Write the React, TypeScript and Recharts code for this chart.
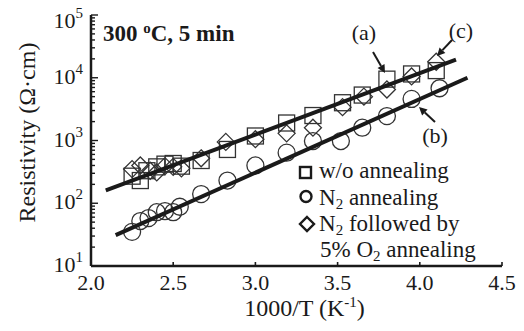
import React from "react";
import { ScatterChart, Scatter, XAxis, YAxis, Label } from "recharts";

const FONT = "Liberation Serif";
const INK = "#1a1a1a";

// 1000/T (K^-1) vs resistivity (ohm cm)
const woAnnealing = [
  { x: 2.25, y: 270 }, { x: 2.3, y: 230 }, { x: 2.34, y: 330 }, { x: 2.4, y: 380 },
  { x: 2.45, y: 420 }, { x: 2.5, y: 430 }, { x: 2.55, y: 390 }, { x: 2.67, y: 480 },
  { x: 2.83, y: 720 }, { x: 3.0, y: 1180 }, { x: 3.19, y: 1900 }, { x: 3.35, y: 2500 },
  { x: 3.53, y: 4000 }, { x: 3.65, y: 5300 }, { x: 3.8, y: 9500 }, { x: 3.95, y: 11500 },
  { x: 4.1, y: 13000 },
];

const n2Annealing = [
  { x: 2.25, y: 35 }, { x: 2.3, y: 52 }, { x: 2.35, y: 58 }, { x: 2.4, y: 72 },
  { x: 2.45, y: 75 }, { x: 2.5, y: 72 }, { x: 2.54, y: 88 }, { x: 2.67, y: 140 },
  { x: 2.83, y: 230 }, { x: 3.0, y: 400 }, { x: 3.19, y: 640 }, { x: 3.35, y: 980 },
  { x: 3.52, y: 980 }, { x: 3.65, y: 1600 }, { x: 3.8, y: 2450 }, { x: 3.95, y: 4600 },
  { x: 4.12, y: 6800 },
];

const n2O2Annealing = [
  { x: 2.25, y: 350 }, { x: 2.3, y: 400 }, { x: 2.36, y: 330 }, { x: 2.4, y: 310 },
  { x: 2.45, y: 390 }, { x: 2.5, y: 380 }, { x: 2.55, y: 360 }, { x: 2.67, y: 520 },
  { x: 2.82, y: 950 }, { x: 3.0, y: 1050 }, { x: 3.19, y: 1300 }, { x: 3.35, y: 1600 },
  { x: 3.53, y: 3400 }, { x: 3.66, y: 5000 }, { x: 3.8, y: 6500 }, { x: 3.95, y: 10500 },
  { x: 4.1, y: 18000 },
];

const fitUpper = [{ x: 2.09, y: 160 }, { x: 4.22, y: 19500 }];
const fitLower = [{ x: 2.15, y: 31 }, { x: 4.29, y: 10000 }];

const xTicks = [2.0, 2.5, 3.0, 3.5, 4.0, 4.5];
const decades = [10, 100, 1000, 10000, 100000];
const yTicks = decades.flatMap((d) =>
  d === 100000 ? [d] : [1, 2, 3, 4, 5, 6, 7, 8, 9].map((m) => d * m)
);

const SquareDot = (p: any) => (
  <rect x={p.cx - 8} y={p.cy - 8} width={16} height={16} fill="none" stroke="#333" strokeWidth={1.3} />
);
const CircleDot = (p: any) => (
  <circle cx={p.cx} cy={p.cy} r={8.5} fill="none" stroke="#333" strokeWidth={1.3} />
);
const DiamondDot = (p: any) => (
  <path
    d={`M${p.cx},${p.cy - 8.5}L${p.cx + 8.5},${p.cy}L${p.cx},${p.cy + 8.5}L${p.cx - 8.5},${p.cy}Z`}
    fill="none"
    stroke="#333"
    strokeWidth={1.3}
  />
);
const NoDot = () => <g />;

const YTick = (props: any) => {
  const { x, y, payload } = props;
  const lg = Math.log10(payload.value);
  const e = Math.round(lg);
  const major = Math.abs(lg - e) < 1e-6;
  const base = Math.max(y + 6, 28);
  return (
    <g>
      <line x1={x} x2={x + (major ? 7 : 4)} y1={y} y2={y} stroke={INK} strokeWidth={1.4} />
      {major && (
        <text x={x - 8} y={base} textAnchor="end" fontFamily={FONT} fontSize={22} fill={INK}>
          10
          <tspan dy={-10} fontSize={15}>{e}</tspan>
        </text>
      )}
    </g>
  );
};

const XTick = (props: any) => {
  const { x, y, payload } = props;
  return (
    <g>
      <line x1={x} x2={x} y1={y} y2={y - 4} stroke={INK} strokeWidth={1.6} />
      <text x={x} y={y + 24} textAnchor="middle" fontFamily={FONT} fontSize={22} fill={INK}>
        {payload.value.toFixed(1)}
      </text>
    </g>
  );
};

const Arrow = ({ x1, y1, x2, y2 }: { x1: number; y1: number; x2: number; y2: number }) => {
  const a = Math.atan2(y2 - y1, x2 - x1);
  const L = 8, W = 4;
  const bx = x2 - L * Math.cos(a), by = y2 - L * Math.sin(a);
  const px = -Math.sin(a) * W, py = Math.cos(a) * W;
  return (
    <g>
      <line x1={x1} y1={y1} x2={bx} y2={by} stroke={INK} strokeWidth={2} />
      <path d={`M${x2},${y2}L${bx + px},${by + py}L${bx - px},${by - py}Z`} fill={INK} />
    </g>
  );
};

function Overlay() {
  const t = { fontFamily: FONT, fill: INK };
  return (
    <svg width={524} height={331} style={{ position: "absolute", left: 0, top: 0, pointerEvents: "none" }}>
      <text x={103} y={41} fontSize={23} fontWeight="bold" {...t}>
        300 <tspan dy={-8} fontSize={15}>o</tspan>
        <tspan dy={8}>C, 5 min</tspan>
      </text>
      <text x={364} y={40} fontSize={22} textAnchor="middle" {...t}>(a)</text>
      <text x={461} y={38} fontSize={22} textAnchor="middle" {...t}>(c)</text>
      <text x={435} y={143} fontSize={22} textAnchor="middle" {...t}>(b)</text>
      <Arrow x1={373} y1={52} x2={385} y2={73} />
      <Arrow x1={452} y1={40} x2={437} y2={56} />
      <Arrow x1={435} y1={122} x2={419} y2={107} />

      <rect x={300} y={167} width={11} height={11} fill="none" stroke={INK} strokeWidth={2.4} />
      <circle cx={306} cy={196.5} r={5.5} fill="none" stroke={INK} strokeWidth={2.4} />
      <path d="M307,217L314,224L307,231L300,224Z" fill="none" stroke={INK} strokeWidth={2.4} />
      <text x={319} y={178} fontSize={23} {...t}>w/o annealing</text>
      <text x={319} y={205} fontSize={23} {...t}>
        N<tspan dy={4} fontSize={15}>2</tspan>
        <tspan dy={-4}> annealing</tspan>
      </text>
      <text x={319} y={231} fontSize={23} {...t}>
        N<tspan dy={4} fontSize={15}>2</tspan>
        <tspan dy={-4}> followed by</tspan>
      </text>
      <text x={320} y={257} fontSize={23} {...t}>
        5% O<tspan dy={4} fontSize={15}>2</tspan>
        <tspan dy={-4}> annealing</tspan>
      </text>
    </svg>
  );
}

export default function App() {
  return (
    <div style={{ position: "absolute", left: 0, top: 0, width: 524, height: 331, background: "#fff" }}>
      <ScatterChart width={524} height={331} margin={{ top: 15, right: 22, bottom: 0, left: 0 }}>
        <XAxis
          dataKey="x"
          type="number"
          domain={[2, 4.5]}
          ticks={xTicks}
          interval={0}
          height={65}
          tickSize={0}
          tickMargin={0}
          tickLine={false}
          tick={<XTick />}
          axisLine={{ stroke: INK, strokeWidth: 2.5 }}
          allowDataOverflow
        >
          <Label
            content={(p: any) => {
              const vb = p.viewBox;
              return (
                <text x={vb.x + vb.width / 2 + 8} y={vb.y + 50} textAnchor="middle" fontFamily={FONT} fontSize={24} fill={INK}>
                  1000/T (K<tspan dy={-9} fontSize={15}>-1</tspan>
                  <tspan dy={9}>)</tspan>
                </text>
              );
            }}
          />
        </XAxis>
        <XAxis
          xAxisId="top"
          orientation="top"
          type="number"
          domain={[2, 4.5]}
          height={0}
          tick={false}
          tickLine={false}
          axisLine={{ stroke: INK, strokeWidth: 2.5 }}
        />
        <YAxis
          dataKey="y"
          type="number"
          scale="log"
          domain={[10, 100000]}
          ticks={yTicks}
          interval={0}
          width={91}
          tickSize={0}
          tickMargin={0}
          tickLine={false}
          tick={<YTick />}
          axisLine={{ stroke: INK, strokeWidth: 2.5 }}
          allowDataOverflow
        >
          <Label
            content={(p: any) => {
              const vb = p.viewBox;
              const cy = vb.y + vb.height / 2 - 8;
              return (
                <text transform={`translate(35,${cy}) rotate(-90)`} textAnchor="middle" fontFamily={FONT} fontSize={24} fill={INK}>
                  Resistivity (Ω·cm)
                </text>
              );
            }}
          />
        </YAxis>
        <YAxis
          yAxisId="right"
          orientation="right"
          type="number"
          domain={[0, 1]}
          width={0}
          tick={false}
          tickLine={false}
          axisLine={{ stroke: INK, strokeWidth: 2.5 }}
        />
        <Scatter data={woAnnealing} shape={SquareDot} isAnimationActive={false} />
        <Scatter data={n2Annealing} shape={CircleDot} isAnimationActive={false} />
        <Scatter data={n2O2Annealing} shape={DiamondDot} isAnimationActive={false} />
        <Scatter data={fitUpper} shape={NoDot} line={{ stroke: INK, strokeWidth: 4 }} isAnimationActive={false} />
        <Scatter data={fitLower} shape={NoDot} line={{ stroke: INK, strokeWidth: 4 }} isAnimationActive={false} />
      </ScatterChart>
      <Overlay />
    </div>
  );
}
